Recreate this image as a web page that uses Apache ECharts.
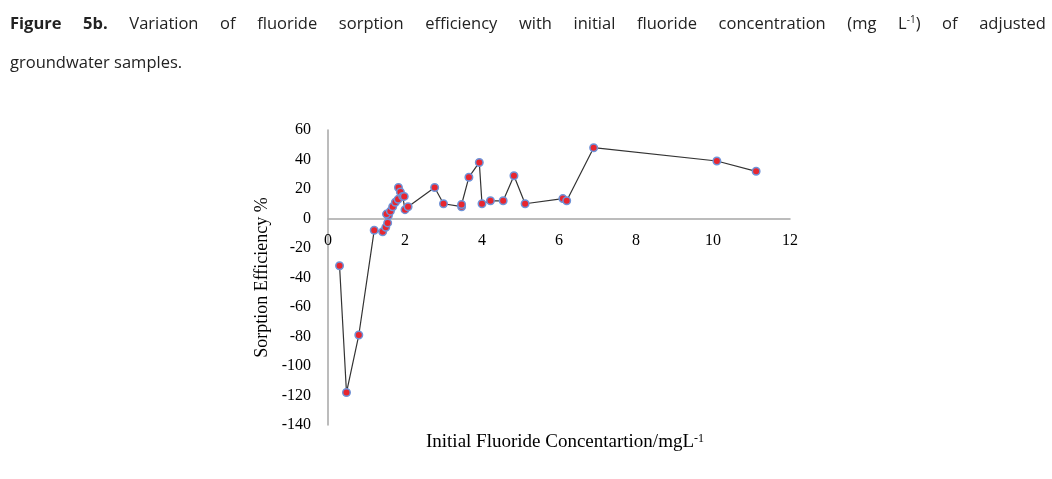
<!DOCTYPE html>
<html>
<head>
<meta charset="utf-8">
<script src="https://cdn.jsdelivr.net/npm/echarts@6/dist/echarts.min.js"></script>
<style>
  html, body { margin: 0; padding: 0; background: #fff; }
  #wrap { position: relative; width: 1052px; height: 479px; overflow: hidden; }
  #chart { position: absolute; left: 0; top: 0; width: 1052px; height: 479px; }
  .cap { position: absolute; left: 10px; font-family: "Open Sans", "Liberation Sans", sans-serif; font-size: 16.5px; color: #222; white-space: nowrap; }
  #cap1 { top: 11px; width: 1036px; display: flex; justify-content: space-between; }
  #cap2 { top: 50px; }
  .b { font-weight: bold; }
  sup { font-size: 10px; vertical-align: 6px; }
</style>
</head>
<body>
<div id="wrap">
  <div id="chart"></div>
  <div class="cap" id="cap1"><span class="b">Figure</span><span class="b">5b.</span><span>Variation</span><span>of</span><span>fluoride</span><span>sorption</span><span>efficiency</span><span>with</span><span>initial</span><span>fluoride</span><span>concentration</span><span>(mg</span><span>L<sup>-1</sup>)</span><span>of</span><span>adjusted</span></div>
  <div class="cap" id="cap2">groundwater samples.</div>
</div>
<script>
// Initial fluoride concentration (mg/L)
var concentration = [0.3, 0.48, 0.8, 1.2, 1.42, 1.5, 1.55, 1.57, 1.52, 1.62, 1.68, 1.75, 1.82, 1.83, 1.88, 1.94, 1.98, 2.0, 2.08, 2.77, 3.0, 3.47, 3.47, 3.66, 3.93, 4.0, 4.22, 4.55, 4.83, 5.12, 6.1, 6.2, 6.9, 10.1, 11.12];
// Sorption efficiency (%)
var efficiency = [-32, -118, -79, -8, -9, -6, -3, 2, 3, 5, 8, 11, 13, 21, 18, 15, 15, 6, 8, 21, 10, 8, 9.5, 28, 38, 10, 12, 12, 29, 10, 13.5, 12, 48, 39, 32];
var xTicks = [0, 2, 4, 6, 8, 10, 12];
var yTicks = [-140, -120, -100, -80, -60, -40, -20, 0, 20, 40, 60];

var points = concentration.map(function (c, i) { return [c, efficiency[i]]; });

var gridTop = 130, gridBottom = 54, chartH = 479;
var plotH = chartH - gridTop - gridBottom;
var yMin = yTicks[0], yMax = yTicks[yTicks.length - 1];
// move the x axis (line + labels) up to y = 0
var xAxisOffset = -plotH * (0 - yMin) / (yMax - yMin);

var chart = echarts.init(document.getElementById('chart'));
var serif = '"Liberation Serif", "Times New Roman", serif';
chart.setOption({
  animation: false,
  grid: { left: 328, right: 262, top: gridTop, bottom: gridBottom },
  title: {
    text: 'Initial Fluoride Concentartion/mgL{sup|-1}',
    left: 560, top: 428, textAlign: 'center',
    textStyle: {
      fontFamily: serif, fontSize: 19, fontWeight: 'normal', color: '#000',
      rich: { sup: { fontFamily: serif, fontSize: 12, verticalAlign: 'top', padding: [0, 0, 7, 0], color: '#000' } }
    }
  },
  xAxis: {
    type: 'value', min: xTicks[0], max: xTicks[xTicks.length - 1], interval: 2,
    offset: xAxisOffset,
    axisLine: { onZero: false, lineStyle: { color: '#a6a6a6', width: 1.5 } },
    axisTick: { show: false },
    splitLine: { show: false },
    axisLabel: { fontFamily: serif, fontSize: 16, color: '#000', margin: 14 }
  },
  yAxis: {
    type: 'value', min: yMin, max: yMax, interval: 20,
    name: 'Sorption Efficiency %', nameLocation: 'middle', nameGap: 57,
    nameTextStyle: { fontFamily: serif, fontSize: 18, color: '#000' },
    axisLine: { show: true, onZero: false, lineStyle: { color: '#a6a6a6', width: 1.5 } },
    axisTick: { show: false },
    splitLine: { show: false },
    axisLabel: { fontFamily: serif, fontSize: 16, color: '#000', margin: 17 }
  },
  series: [{
    type: 'line',
    data: points,
    symbol: 'circle',
    symbolSize: 7.5,
    lineStyle: { color: '#333', width: 1.2 },
    itemStyle: { color: '#e8262f', borderColor: '#6f93d8', borderWidth: 1.5 },
    z: 3
  }]
});
</script>
</body>
</html>
